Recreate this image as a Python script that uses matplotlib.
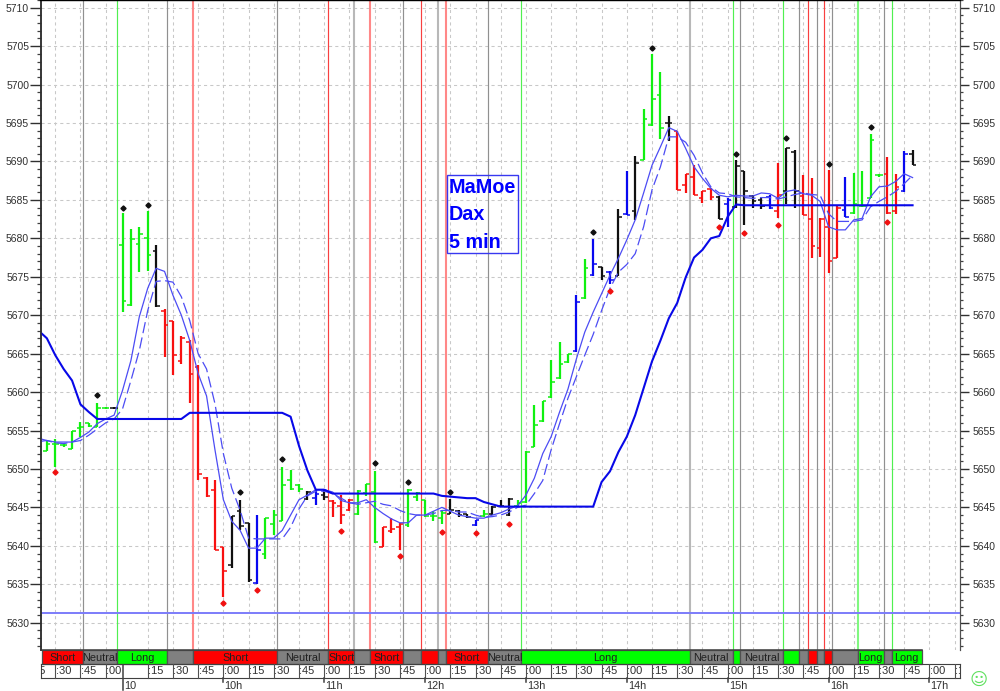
import matplotlib
matplotlib.use("Agg")
import matplotlib.pyplot as plt
from matplotlib.patches import Rectangle
from matplotlib.ticker import MultipleLocator, FixedLocator

plt.rcParams['font.family'] = ['Liberation Sans', 'DejaVu Sans']

# ---------- data ----------
bar_index = list(range(-9, 95))
bar_color = list("gggggggg" "k" "gggg" "k" "rrrrrrrr" "kkk" "b" "ggggg" "k" "b" "k"
                 "rrr" "ggg" "rrr" "ggggg" "kkk" "b" "g" "kkk" "ggggggg" "b" "g" "b" "k" "b" "k" "b" "k"
                 "ggg" "k" "rrrrr" "k" "b" "kkkk" "b" "r" "kk" "rrrrr" "b" "ggg" "g" "rr" "b" "k")
bar_high = [5653.7,5653.9,5653.4,5655.0,5656.1,5656.0,5658.6,5658.0,5658.0,
            5683.3,5681.2,5681.5,5683.5,5679.1,5670.8,5669.3,5667.3,5666.8,5663.5,5648.9,5648.5,5639.9,
            5643.9,5646.0,5643.0,5644.0,5643.6,5644.7,5650.3,5649.9,5648.0,5647.1,5647.4,5647.3,
            5645.9,5646.6,5646.1,5647.2,5648.1,5649.7,5642.4,5643.6,5643.0,5647.4,5647.0,5645.9,5644.5,5644.5,
            5646.1,5644.7,5644.2,5643.3,5644.6,5645.2,5645.9,5646.2,5646.0,5652.4,5658.3,5658.8,5664.2,5666.5,5665.0,
            5672.6,5677.3,5679.9,5676.3,5675.7,5683.8,5688.7,5690.7,5696.8,5704.0,5701.6,5695.9,
            5694.0,5688.4,5689.5,5686.1,5686.5,5685.5,5685.3,5690.2,5688.7,5685.6,5685.2,5685.6,
            5689.8,5691.8,5691.5,5688.2,5687.8,5682.7,5688.9,5684.2,5688.0,5688.5,5688.7,5693.6,5688.4,
            5690.6,5688.4,5691.3,5691.5]
bar_low = [5652.3,5650.2,5652.9,5652.6,5654.2,5655.4,5655.4,5657.8,5657.8,
           5670.4,5671.2,5675.6,5675.8,5671.1,5664.5,5662.2,5663.6,5658.6,5648.6,5646.3,5639.4,5633.3,
           5637.1,5642.1,5635.3,5635.1,5638.3,5641.4,5643.2,5647.3,5647.0,5646.0,5645.3,5646.0,
           5643.7,5642.8,5644.5,5644.0,5646.5,5640.4,5639.9,5641.7,5639.5,5642.4,5645.8,5643.8,5643.2,5642.8,
           5644.2,5643.8,5643.6,5642.6,5643.8,5644.0,5645.0,5643.9,5645.1,5645.6,5652.8,5656.1,5659.2,5661.7,5663.8,
           5665.2,5672.1,5675.1,5674.6,5674.0,5675.1,5683.0,5682.4,5690.2,5694.6,5692.9,5692.6,
           5686.3,5685.9,5685.7,5684.6,5685.0,5682.5,5681.5,5683.9,5681.7,5683.9,5683.8,5683.8,
           5682.7,5684.5,5683.9,5683.0,5677.4,5677.6,5675.5,5677.4,5682.8,5683.2,5684.1,5685.2,5688.0,
           5683.2,5683.2,5686.0,5689.5]
bar_open = [5652.3,5653.3,5653.1,5652.6,5655.3,5656.0,5655.5,5657.9,5657.9,
            5679.1,5671.3,5679.3,5680.1,5678.3,5670.5,5669.2,5664.0,5666.5,5663.3,5648.8,5647.3,5639.9,
            5637.5,5644.5,5643.0,5635.2,5638.9,5642.8,5643.2,5648.5,5647.9,5646.1,5646.2,5646.6,
            5645.8,5645.2,5644.6,5644.1,5646.9,5647.0,5639.9,5641.9,5642.4,5642.7,5646.4,5645.9,5643.9,5643.6,
            5644.2,5644.5,5644.2,5642.7,5643.9,5644.1,5645.2,5644.0,5645.2,5645.7,5652.9,5656.2,5659.3,5661.8,5663.9,
            5665.3,5672.2,5675.2,5676.3,5675.6,5675.1,5683.1,5683.6,5690.2,5694.7,5698.6,5695.0,
            5694.0,5687.0,5688.0,5685.3,5686.4,5685.4,5684.5,5684.1,5688.7,5685.5,5685.0,5685.4,
            5683.5,5686.2,5691.2,5685.5,5682.5,5678.7,5681.5,5677.5,5683.7,5683.3,5684.2,5685.3,5688.2,
            5688.4,5683.6,5686.2,5691.0]
bar_close = [5653.2,5653.3,5653.1,5655.0,5655.5,5655.6,5657.9,5657.9,5657.9,
             5671.9,5679.9,5680.5,5677.8,5671.2,5668.7,5664.8,5667.0,5662.4,5649.3,5646.5,5639.4,5636.7,
             5643.9,5642.6,5635.6,5639.5,5643.6,5644.0,5647.9,5647.4,5647.4,5647.0,5646.8,5646.3,
             5645.6,5644.0,5645.9,5647.1,5648.1,5640.5,5642.4,5642.2,5642.9,5647.2,5646.9,5643.9,5643.9,5644.3,
             5644.6,5644.0,5643.7,5643.3,5644.2,5645.1,5645.2,5646.1,5645.6,5652.2,5655.7,5658.8,5661.3,5663.7,5664.9,
             5671.7,5676.2,5676.7,5675.1,5674.6,5682.8,5683.0,5689.8,5695.5,5698.1,5694.4,5695.0,
             5686.3,5688.4,5685.7,5686.1,5685.4,5682.5,5685.0,5689.4,5686.2,5684.8,5684.2,5683.9,
             5685.6,5691.8,5686.2,5683.0,5679.0,5682.5,5677.0,5683.9,5682.8,5684.5,5684.2,5692.8,5688.2,
             5683.3,5686.7,5691.0,5689.6]

ma_index = [-9.7] + bar_index
ma_slow = [5667.7,5667.0,5664.8,5663.0,5661.5,5658.4,5657.4,5656.5,5656.5,5656.5,
           5656.5,5656.5,5656.5,5656.5,5656.5,5656.5,5656.5,5656.5,5657.3,5657.3,5657.3,5657.3,
           5657.3,5657.3,5657.3,5657.3,5657.3,5657.3,5657.3,5657.3,5656.8,5653.0,5649.8,5647.3,5647.3,
           5646.8,5646.8,5646.8,5646.8,5646.8,5646.8,5646.8,5646.8,5646.8,5646.8,5646.8,5646.8,5646.8,5646.5,
           5646.4,5646.3,5646.2,5646.2,5645.7,5645.4,5645.1,5645.1,5645.1,5645.1,5645.1,5645.1,5645.1,5645.1,5645.1,
           5645.1,5645.1,5645.1,5648.3,5649.7,5652.2,5654.2,5657.0,5660.5,5664.0,5666.7,5669.6,
           5671.6,5674.9,5677.5,5678.5,5680.0,5680.3,5682.8,5684.4,5684.3,5684.3,5684.3,5684.3,
           5684.3,5684.3,5684.3,5684.3,5684.3,5684.3,5684.3,5684.3,5684.3,5684.3,5684.3,5684.3,5684.3,
           5684.3,5684.3,5684.3,5684.3]
ma_fast = [5653.9,5653.7,5653.5,5653.5,5653.5,5654.1,5654.8,5655.9,5656.5,5657.0,
           5660.2,5664.1,5669.8,5673.5,5676.1,5675.7,5672.6,5670.0,5666.7,5662.4,5659.5,5652.5,5646.0,
           5643.2,5642.0,5639.7,5639.7,5641.0,5641.0,5642.0,5644.0,5646.0,5646.6,5647.3,5647.3,
           5647.0,5645.9,5645.6,5645.6,5646.0,5645.0,5644.2,5643.5,5643.0,5643.0,5644.0,5644.0,5644.5,5645.0,
           5644.5,5644.0,5643.8,5643.6,5643.6,5644.0,5644.3,5644.8,5645.2,5646.6,5648.8,5652.0,5654.2,5657.4,5660.4,
           5664.3,5667.8,5670.4,5672.8,5675.2,5677.4,5679.8,5682.4,5685.9,5689.5,5691.9,5694.4,
           5693.9,5691.7,5689.3,5687.8,5686.5,5685.6,5685.4,5685.6,5685.5,5685.5,5685.9,5685.8,
           5685.2,5686.1,5686.3,5685.8,5685.6,5684.8,5681.5,5681.1,5681.1,5682.4,5682.6,5685.4,5686.7,
           5686.8,5687.4,5688.4,5687.9]
ma_mid = [5653.6,5653.7,5653.4,5653.3,5653.5,5653.7,5654.4,5655.2,5656.0,5656.5,
          5657.8,5661.5,5665.4,5670.6,5674.4,5674.5,5674.3,5672.4,5669.3,5665.0,5663.0,5658.5,5652.0,
          5647.5,5644.6,5641.0,5640.9,5640.9,5640.9,5640.9,5642.4,5644.8,5646.5,5647.1,5647.1,
          5646.8,5646.2,5645.6,5645.4,5645.6,5645.8,5645.4,5645.2,5644.6,5644.2,5644.0,5644.0,5644.2,5644.6,
          5644.6,5644.4,5644.4,5644.0,5643.7,5643.8,5644.0,5644.4,5645.0,5645.3,5646.8,5648.5,5652.5,5655.9,5659.2,
          5662.0,5664.8,5667.5,5670.6,5673.5,5675.6,5676.6,5678.0,5681.5,5686.3,5689.3,5693.2,
          5693.2,5692.5,5690.8,5688.5,5686.7,5685.9,5685.8,5685.4,5685.3,5685.2,5685.3,5685.3,
          5685.1,5685.4,5685.7,5685.9,5685.7,5685.6,5683.2,5682.2,5682.2,5682.2,5682.4,5684.1,5684.8,
          5685.4,5686.1,5687.1,5688.2]

peak_index = [-3, 0, 3, 14, 19, 30, 34, 39, 56, 63, 73, 79, 84, 89]
peak_value = [5659.6, 5684.0, 5684.3, 5647.0, 5651.3, 5650.8, 5648.3, 5647.0, 5680.8, 5704.8, 5691.0, 5693.0, 5689.7, 5694.5]
trough_index = [-8, 12, 16, 26, 33, 38, 42, 46, 58, 71, 74, 78, 91]
trough_value = [5649.6, 5632.5, 5634.2, 5641.9, 5638.7, 5641.8, 5641.7, 5642.9, 5673.2, 5681.5, 5680.7, 5681.7, 5682.1]

stop_level = [5631.3]

state_edges = [-9.58,-4.66,-0.62,5.33,8.42,18.42,24.49,27.54,29.45,33.41,35.48,37.54,38.49,43.45,47.45,
               67.52,72.6,73.5,78.55,80.52,81.52,82.6,83.5,84.45,87.5,90.56,91.52,95.1]
state_kind = list("rngnrnrnrnrnrngngngnrnrngng")
state_label = ["Short","Neutral","Long","","Short","Neutral","Short","","Short","","","","Short","Neutral",
               "Long","Neutral","","Neutral","","","","","","","Long","","Long"]
wide_lines = [4, 7, 8, 11, 12, 15, 24]   # positions in state_edges drawn broader and paler

quarter_index = [-11, -8, -5, -2] + list(range(3, 100, 3))
quarter_label = [":15", ":30", ":45", ":00"] + [":15", ":30", ":45", ":00"] * 8 + [":15"]
hour_index = [0, 12, 24, 36, 48, 60, 72, 84, 96]
hour_label = ["10", "10h", "11h", "12h", "13h", "14h", "15h", "16h", "17h"]

box_lines = ["MaMoe", "Dax", "5 min"]

# ---------- layout ----------
W, H = 1000, 691
X0 = (41 - 122.5) / 8.405
X1 = (959.5 - 122.5) / 8.405
BAR = {"g": "#10f010", "r": "#f81010", "k": "#101010", "b": "#0808f0"}
FILL = {"g": "#00ff00", "r": "#ff0000", "n": "#808080"}
LINE = {"g": "#50f050", "r": "#f84040", "n": "#909090"}
PALE = {"g": "#80f880", "r": "#ff8888", "n": "#b8b8b8"}


def axes_px(x0, y0, x1, y1):
    return [x0 / W, 1 - y1 / H, (x1 - x0) / W, (y1 - y0) / H]


fig = plt.figure(figsize=(10, 6.91), dpi=100, facecolor="white")
ax = fig.add_axes(axes_px(41, 0, 959.5, 650))
strip = fig.add_axes(axes_px(41, 650, 959.5, 664), sharex=ax)
tax = fig.add_axes(axes_px(41, 664, 959.5, 691), sharex=ax)

ax.set_xlim(X0, X1)
ax.set_ylim(5626.45, 5711)

# grid
ax.yaxis.set_major_locator(MultipleLocator(5))
ax.yaxis.set_minor_locator(MultipleLocator(1))
ax.xaxis.set_major_locator(FixedLocator(quarter_index))
ax.grid(True, which="major", color="#c8c8c8", lw=0.75, ls=(0, (3, 3)), zorder=0)
ax.set_axisbelow(True)
ax.tick_params(axis="x", which="both", length=0, labelbottom=False)
ax.tick_params(axis="y", which="major", length=8, width=1.0, color="#303030", labelsize=7.5, pad=0.5, labelcolor="#303030")
ax.tick_params(axis="y", which="minor", length=2.6, width=0.9, color="#404040")
ax.ticklabel_format(axis="y", useOffset=False, style="plain")

right = ax.twinx()
right.set_ylim(ax.get_ylim())
right.yaxis.set_major_locator(MultipleLocator(5))
right.yaxis.set_minor_locator(MultipleLocator(1))
right.tick_params(axis="y", which="major", length=6.3, width=1.0, color="#303030", labelsize=7.5, pad=3, labelcolor="#303030")
right.tick_params(axis="y", which="minor", length=2.2, width=0.9, color="#404040")
right.ticklabel_format(axis="y", useOffset=False, style="plain")

for a in (ax, right):
    a.spines["bottom"].set_visible(False)
    a.spines["left"].set_color("#303030")
    a.spines["right"].set_color("#505050")
    a.spines["top"].set_color("black")
    a.spines["left"].set_linewidth(1.1)
    a.spines["top"].set_linewidth(1.6)

# signal lines
for k in range(1, len(state_edges) - 1):
    kind = state_kind[k]
    if k in wide_lines:
        ax.axvline(state_edges[k], color=PALE[kind], lw=1.5, zorder=1)
    else:
        ax.axvline(state_edges[k], color=LINE[kind], lw=0.85, zorder=1)

# stop level
ax.axhline(stop_level[0], color="#7c7cfa", lw=1.4, zorder=2)

# OHLC bars
TICK = 0.43
for i, c, hi, lo, o, cl in zip(bar_index, bar_color, bar_high, bar_low, bar_open, bar_close):
    col = BAR[c]
    ax.plot([i, i], [lo, hi], color=col, lw=1.6, solid_capstyle="butt", zorder=3)
    ax.plot([i - TICK, i], [o, o], color=col, lw=1.1, solid_capstyle="butt", zorder=3)
    ax.plot([i, i + TICK], [cl, cl], color=col, lw=1.1, solid_capstyle="butt", zorder=3)

# averages
ax.plot(ma_index, ma_slow, color="#0808e8", lw=1.5, zorder=5)
ax.plot(ma_index, ma_fast, color="#4c4cf4", lw=0.9, zorder=4)
ax.plot(ma_index, ma_mid, color="#4c4cf4", lw=0.9, ls=(0, (9, 3.5)), zorder=4)

# extreme markers
ax.plot(peak_index, peak_value, ls="none", marker="D", ms=2.6, color="#101010", zorder=6)
ax.plot(trough_index, trough_value, ls="none", marker="D", ms=2.6, color="#f01010", zorder=6)

# label box
bx0 = (446.7 - 122.5) / 8.405
bx1 = (518.3 - 122.5) / 8.405
by1 = 5630 + (622.7 - 175) / 7.69
by0 = 5630 + (622.7 - 253.3) / 7.69
ax.add_patch(Rectangle((bx0, by0), bx1 - bx0, by1 - by0, fill=False, ec="#3838f0", lw=1.0, zorder=7))
for line, frac in zip(box_lines, (0.862, 0.521, 0.168)):
    ax.text(bx0 + 0.25, by0 + (by1 - by0) * frac, line, color="#0000ff", fontsize=14.2,
            fontweight="bold", ha="left", va="center_baseline", zorder=8)

# state strip
strip.set_ylim(0, 1)
strip.set_xlim(X0, X1)
strip.axis("off")
for k, (kind, label) in enumerate(zip(state_kind, state_label)):
    x0, x1 = state_edges[k], state_edges[k + 1]
    rect = Rectangle((x0, 0), x1 - x0, 1, fc=FILL[kind], ec="#505050", lw=0.9, clip_on=False, zorder=2)
    strip.add_patch(rect)
    if label:
        t = strip.text((x0 + x1) / 2, 0.45, label, ha="center", va="center", fontsize=7.8,
                       color="#202020", zorder=3)
        t.set_clip_path(rect)
strip.plot([X0, state_edges[-1]], [1, 1], color="#404040", lw=1.1, clip_on=False, zorder=4)

# time axis
tax.set_ylim(27, 0)
tax.set_xlim(X0, X1)
tax.axis("off")
tax.plot([X0, X1], [0, 0], color="#404040", lw=0.8, clip_on=False)
tax.plot([X0, X1], [14, 14], color="#404040", lw=0.8, clip_on=False)
tax.plot([X0, X0], [0, 14], color="#404040", lw=0.8, clip_on=False)
tax.plot([X1, X1], [0, 14], color="#404040", lw=0.8, clip_on=False)
for q, label in zip(quarter_index, quarter_label):
    tax.plot([q, q], [0, 14], color="#505050", lw=0.8)
    tax.text(q + 0.05, 7, label, ha="left", va="center", fontsize=8, color="#303030", clip_on=True)
for h, label in zip(hour_index, hour_label):
    end = 26 if label == "10" else 18
    tax.plot([h, h], [0 if label == "10" else 14, end], color="#404040", lw=1.1)
    tax.text(h + 0.15, 22, label, ha="left", va="center", fontsize=7.8, color="#303030")

# status face
fig.text(979 / W, 1 - 680 / H, "\u263a", fontsize=12.5, color="#60e060", ha="center", va="center",
         family=["DejaVu Sans"])

fig.savefig("out.png", dpi=100, facecolor="white")
